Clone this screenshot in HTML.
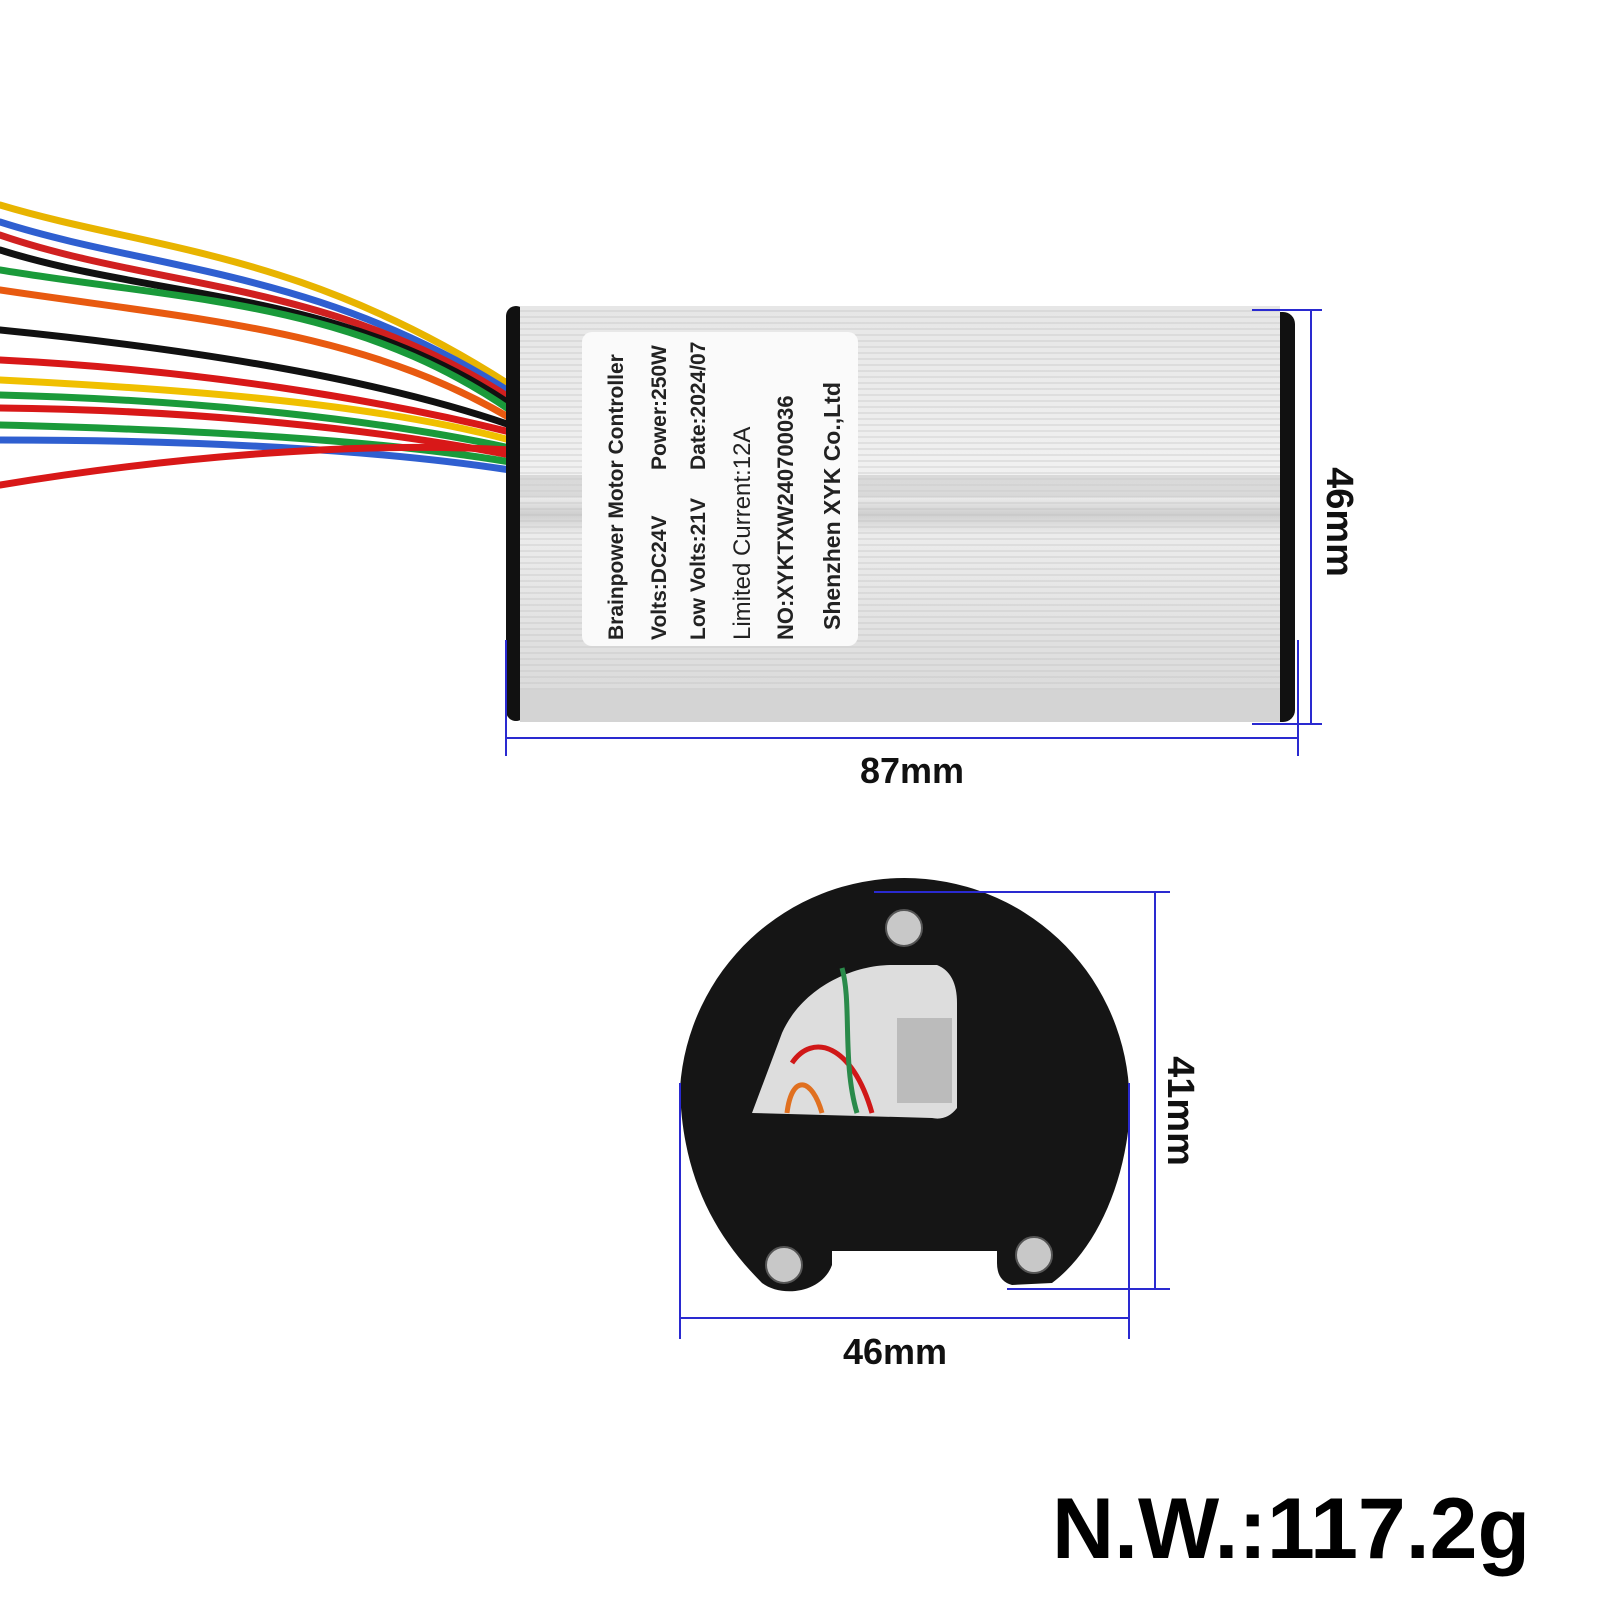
<!DOCTYPE html>
<html><head><meta charset="utf-8"><style>
html,body{margin:0;padding:0;background:#fff;width:1600px;height:1600px;overflow:hidden}
svg{display:block}
text{font-family:"Liberation Sans",sans-serif}
</style></head><body>
<svg width="1600" height="1600" viewBox="0 0 1600 1600" xmlns="http://www.w3.org/2000/svg">
<defs>
<linearGradient id="al" x1="0" y1="0" x2="0" y2="1">
<stop offset="0" stop-color="#e6e6e6"/><stop offset="0.45" stop-color="#f2f2f2"/><stop offset="0.5" stop-color="#cfcfcf"/><stop offset="0.55" stop-color="#ececec"/><stop offset="1" stop-color="#d8d8d8"/>
</linearGradient>
<pattern id="ribs" width="10" height="6" patternUnits="userSpaceOnUse"><rect width="10" height="6" fill="none"/><line x1="0" y1="5" x2="10" y2="5" stroke="#bdbdbd" stroke-width="1"/></pattern>
</defs>
<g fill="none" stroke-width="7" stroke-linecap="round">
<path d="M0 205 C150 250 300 250 510 385" stroke="#e8b400"/>
<path d="M0 222 C150 270 320 270 510 392" stroke="#2f5fd0"/>
<path d="M0 235 C160 290 330 280 510 398" stroke="#d02020"/>
<path d="M0 250 C160 300 340 290 510 404" stroke="#111"/>
<path d="M0 270 C180 300 350 300 510 410" stroke="#1a9a3a"/>
<path d="M0 290 C200 320 360 330 510 418" stroke="#e85a10"/>
<path d="M0 330 C200 350 380 380 510 425" stroke="#111"/>
<path d="M0 360 C200 370 380 400 510 432" stroke="#d81818"/>
<path d="M0 380 C200 390 380 405 510 440" stroke="#f0c000"/>
<path d="M0 395 C200 400 380 420 510 448" stroke="#1a9a3a"/>
<path d="M0 408 C200 410 380 430 510 455" stroke="#d81818"/>
<path d="M0 425 C200 430 380 440 510 462" stroke="#1a9a3a"/>
<path d="M0 440 C200 440 380 450 510 470" stroke="#2f5fd0"/>
<path d="M0 485 C150 460 350 440 510 450" stroke="#d81818"/>
</g>
<rect x="506" y="306" width="20" height="415" rx="10" fill="#111"/>
<rect x="1268" y="312" width="27" height="410" rx="12" fill="#111"/>
<rect x="520" y="306" width="760" height="416" fill="url(#al)"/>
<rect x="520" y="306" width="760" height="416" fill="url(#ribs)" opacity="0.6"/>
<rect x="520" y="475" width="760" height="22" fill="#c9c9c9" opacity="0.6"/>
<rect x="520" y="690" width="760" height="32" fill="#d4d4d4"/>
<rect x="582" y="332" width="276" height="314" rx="10" fill="#fafafa"/>
<g fill="#222" font-size="21" font-weight="bold">
<text transform="translate(623,640) rotate(-90)">Brainpower Motor Controller</text>
<text transform="translate(666,640) rotate(-90)">Volts:DC24V</text>
<text transform="translate(666,470) rotate(-90)">Power:250W</text>
<text transform="translate(705,640) rotate(-90)">Low Volts:21V</text>
<text transform="translate(705,470) rotate(-90)">Date:2024/07</text>
<text transform="translate(750,640) rotate(-90)" font-size="24" font-weight="normal">Limited Current:12A</text>
<text transform="translate(793,640) rotate(-90)" font-size="22">NO:XYKTXW240700036</text>
<text transform="translate(840,630) rotate(-90)" font-size="23">Shenzhen XYK Co.,Ltd</text>
</g>
<g stroke="#2a2ad0" stroke-width="2" fill="none">
<line x1="1252" y1="310" x2="1322" y2="310"/>
<line x1="1252" y1="724" x2="1322" y2="724"/>
<line x1="1311" y1="310" x2="1311" y2="724"/>
<line x1="506" y1="640" x2="506" y2="756"/>
<line x1="1298" y1="640" x2="1298" y2="756"/>
<line x1="506" y1="738" x2="1298" y2="738"/>
</g>
<text x="912" y="783" font-size="36" font-weight="bold" text-anchor="middle" fill="#111">87mm</text>
<text transform="translate(1327,522) rotate(90)" font-size="38" font-weight="bold" text-anchor="middle" fill="#111">46mm</text>
<g transform="translate(-8,3)">
<path d="M688 1085 A225 225 0 0 1 1137 1085 L1137 1120 C1130 1190 1100 1250 1060 1280 L1020 1282 Q1005 1278 1005 1260 L1005 1248 L840 1248 L840 1262 C830 1290 790 1295 770 1280 C720 1230 690 1170 688 1085 Z" fill="#151515"/>
<path d="M760 1110 L790 1030 C810 985 860 962 900 962 L945 962 Q965 970 965 1000 L965 1105 Q955 1118 940 1115 Z" fill="#ddd"/>
<g fill="none" stroke-width="5">
<path d="M800 1060 C820 1030 860 1040 880 1110" stroke="#d01818"/>
<path d="M795 1110 C800 1070 820 1075 830 1110" stroke="#e07020"/>
<path d="M850 965 C860 1000 850 1060 865 1110" stroke="#2a8a4a"/>
</g>
<rect x="905" y="1015" width="55" height="85" fill="#bbb"/>
<g fill="#c8c8c8" stroke="#555" stroke-width="2">
<circle cx="912" cy="925" r="18"/><circle cx="792" cy="1262" r="18"/><circle cx="1042" cy="1252" r="18"/>
</g>
<g stroke="#2a2ad0" stroke-width="2" fill="none">
<line x1="882" y1="889" x2="1178" y2="889"/>
<line x1="1015" y1="1286" x2="1178" y2="1286"/>
<line x1="1163" y1="889" x2="1163" y2="1286"/>
<line x1="688" y1="1080" x2="688" y2="1336"/>
<line x1="1137" y1="1080" x2="1137" y2="1336"/>
<line x1="688" y1="1315" x2="1137" y2="1315"/>
</g>
<text x="903" y="1361" font-size="36" font-weight="bold" text-anchor="middle" fill="#111">46mm</text>
<text transform="translate(1176,1108) rotate(90)" font-size="38" font-weight="bold" text-anchor="middle" fill="#111">41mm</text>
</g>
<text x="1530" y="1558" font-size="86" font-weight="bold" text-anchor="end" fill="#000">N.W.:117.2g</text>
</svg>
</body></html>
